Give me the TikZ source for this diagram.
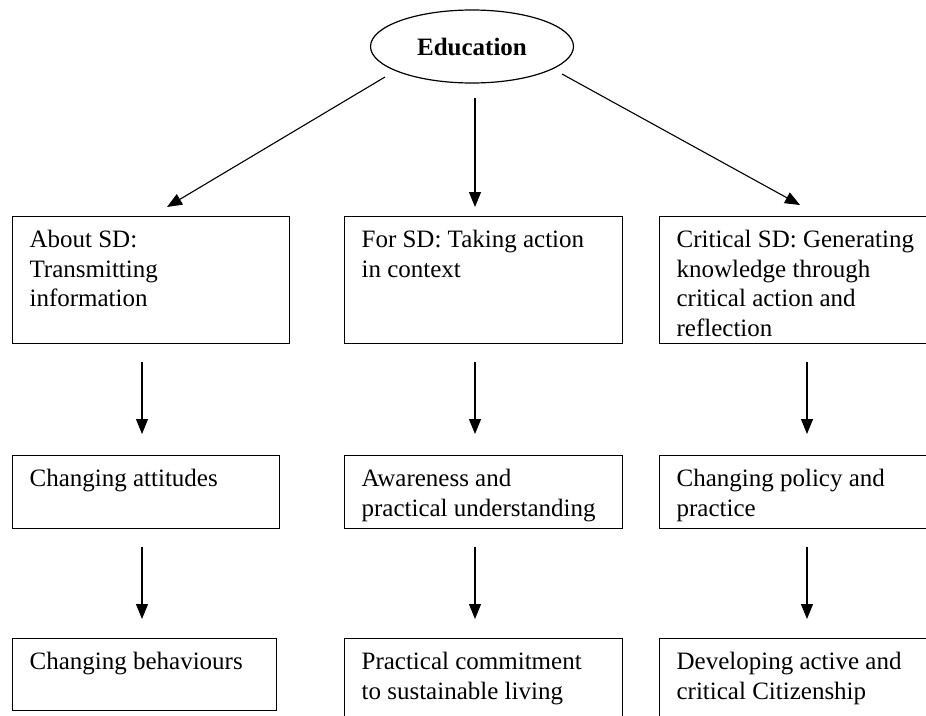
\documentclass[tikz,border=0pt]{standalone}
\usepackage{fontspec}
\setmainfont{Liberation Serif}
\usetikzlibrary{arrows.meta,shapes.geometric}
\newcommand{\boxtext}[3]{\parbox[t][#2][t]{#1}{\leftskip=17pt\rightskip=0pt plus 1fil\parindent=0pt\rule{0pt}{31pt}#3}}
\tikzset{
  bx/.style={draw, line width=1.2pt, inner sep=0pt, anchor=north west},
  arr/.style={line width=1.1pt, -{Triangle[length=15pt,width=12pt]}},
  arrv/.style={arr, shorten <=18pt},
}
\begin{document}
\begin{tikzpicture}[x=1pt, y=-1pt, font=\fontsize{25}{29.5}\selectfont]
\useasboundingbox (0,0) rectangle (926,715);
\node[draw, ellipse, line width=1.2pt, minimum width=203pt, minimum height=73pt, inner sep=0pt, font=\fontsize{25}{29.5}\selectfont\bfseries] (E) at (472,46.5) {Education};

\node[bx] (B1) at (12,216) {\boxtext{277pt}{127pt}{About SD:\\Transmitting\\information}};
\node[bx] (B2) at (344,216) {\boxtext{278pt}{127pt}{For SD: Taking action\\in context}};
\node[bx] (B3) at (659,216) {\boxtext{281pt}{127pt}{Critical SD: Generating\\knowledge through\\critical action and\\reflection}};

\node[bx] (C1) at (12,455) {\boxtext{267pt}{73pt}{Changing attitudes}};
\node[bx] (C2) at (344,455) {\boxtext{278pt}{73pt}{Awareness and\\practical understanding}};
\node[bx] (C3) at (659,455) {\boxtext{281pt}{73pt}{Changing policy and\\practice}};

\node[bx] (D1) at (12,638) {\boxtext{264pt}{72pt}{Changing behaviours}};
\node[bx] (D2) at (344,638) {\boxtext{278pt}{90pt}{Practical commitment\\to sustainable living}};
\node[bx] (D3) at (659,638) {\boxtext{281pt}{90pt}{Developing active and\\critical Citizenship}};

\draw[arr] ([shift={(-87,30.5)}]E.center) -- ([shift={(155,-9)}]B1.north west);
\draw[arr] ([shift={(3,51.5)}]E.center) -- ([shift={(131,-9)}]B2.north west);
\draw[arr] ([shift={(90,27.5)}]E.center) -- ([shift={(141,-11)}]B3.north west);

\draw[arrv, shorten >=21pt] ([xshift=130pt]B1.south west) -- ([xshift=130pt]C1.north west);
\draw[arrv, shorten >=21pt] ([xshift=131pt]B2.south west) -- ([xshift=131pt]C2.north west);
\draw[arrv, shorten >=21pt] ([xshift=148pt]B3.south west) -- ([xshift=148pt]C3.north west);

\draw[arrv, shorten >=19pt] ([xshift=130pt]C1.south west) -- ([xshift=130pt]D1.north west);
\draw[arrv, shorten >=19pt] ([xshift=131pt]C2.south west) -- ([xshift=131pt]D2.north west);
\draw[arrv, shorten >=19pt] ([xshift=148pt]C3.south west) -- ([xshift=148pt]D3.north west);
\end{tikzpicture}
\end{document}
